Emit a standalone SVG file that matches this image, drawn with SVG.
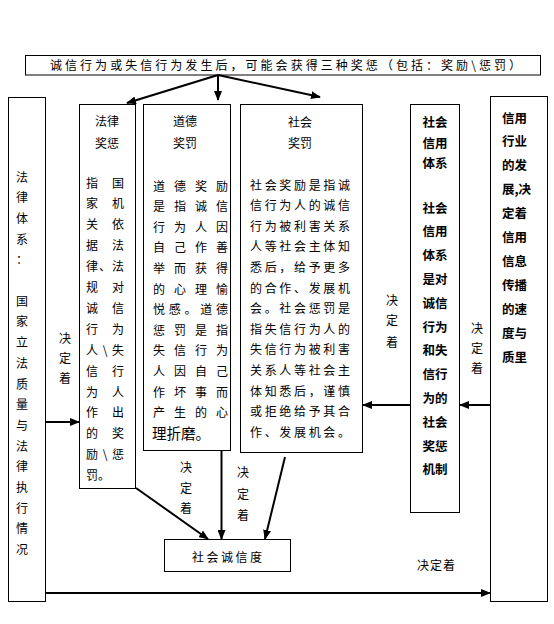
<svg xmlns="http://www.w3.org/2000/svg" width="554" height="624" viewBox="0 0 554 624">
<style>
.box{fill:#fff;stroke:#000;stroke-width:1}
.t{font-family:"Noto Sans CJK SC","Liberation Sans",sans-serif;font-size:12px;fill:#000}
.c{text-anchor:middle}
.b{font-weight:bold;font-size:12.5px}
.ln{stroke:#000;stroke-width:2;fill:none}
</style>
<defs>
<marker id="ah" viewBox="0 0 10 8" refX="9" refY="4" markerWidth="10" markerHeight="8" markerUnits="userSpaceOnUse" orient="auto"><path d="M0,0 L10,4 L0,8 z" fill="#000"/></marker>
</defs>
<rect width="554" height="624" fill="#fff"/>

<g id="top">
<rect class="box" x="25.5" y="55.5" width="515" height="19.5"/>
<text class="t" x="50" y="69.5" textLength="471" lengthAdjust="spacing">诚信行为或失信行为发生后，可能会获得三种奖惩（包括：奖励\惩罚）</text>
</g>

<g id="law-system">
<rect class="box" x="8.5" y="97.5" width="37" height="504"/>
<g class="t c">
<text x="22" y="181.5">法</text><text x="22" y="202.2">律</text><text x="22" y="222.9">体</text><text x="22" y="243.6">系</text><text x="22" y="264.3">：</text>
<text x="22" y="305.7">国</text><text x="22" y="326.4">家</text><text x="22" y="347.1">立</text><text x="22" y="367.8">法</text><text x="22" y="388.5">质</text><text x="22" y="409.2">量</text><text x="22" y="429.9">与</text><text x="22" y="450.6">法</text><text x="22" y="471.3">律</text><text x="22" y="492">执</text><text x="22" y="512.7">行</text><text x="22" y="533.4">情</text><text x="22" y="554.1">况</text>
</g>
</g>

<g id="law">
<rect class="box" x="79.5" y="104.5" width="56" height="384"/>
<text class="t c" x="107" y="125.5">法律</text>
<text class="t c" x="107" y="147.5">奖惩</text>
<g class="t">
<text x="86" y="187.5" textLength="38" lengthAdjust="spacing">指国</text>
<text x="86" y="208.4" textLength="38" lengthAdjust="spacing">家机</text>
<text x="86" y="229.3" textLength="38" lengthAdjust="spacing">关依</text>
<text x="86" y="250.2" textLength="38" lengthAdjust="spacing">据法</text>
<text x="86" y="271.1" textLength="38" lengthAdjust="spacing">律、法</text>
<text x="86" y="292" textLength="38" lengthAdjust="spacing">规对</text>
<text x="86" y="312.9" textLength="38" lengthAdjust="spacing">诚信</text>
<text x="86" y="333.8" textLength="38" lengthAdjust="spacing">行为</text>
<text x="86" y="354.7" textLength="38" lengthAdjust="spacing">人\失</text>
<text x="86" y="375.6" textLength="38" lengthAdjust="spacing">信行</text>
<text x="86" y="396.5" textLength="38" lengthAdjust="spacing">为人</text>
<text x="86" y="417.4" textLength="38" lengthAdjust="spacing">作出</text>
<text x="86" y="438.3" textLength="38" lengthAdjust="spacing">的奖</text>
<text x="86" y="459.2" textLength="38" lengthAdjust="spacing">励\惩</text>
<text x="86" y="480.1">罚。</text>
</g>
</g>

<g id="moral">
<rect class="box" x="143.5" y="104.5" width="87" height="346"/>
<text class="t c" x="185" y="125.5">道德</text>
<text class="t c" x="185" y="147.5">奖罚</text>
<g class="t">
<text x="153" y="190.5" textLength="75" lengthAdjust="spacing">道德奖励</text>
<text x="153" y="211.1" textLength="75" lengthAdjust="spacing">是指诚信</text>
<text x="153" y="231.7" textLength="75" lengthAdjust="spacing">行为人因</text>
<text x="153" y="252.3" textLength="75" lengthAdjust="spacing">自己作善</text>
<text x="153" y="272.9" textLength="75" lengthAdjust="spacing">举而获得</text>
<text x="153" y="293.5" textLength="75" lengthAdjust="spacing">的心理愉</text>
<text x="153" y="314.1" textLength="75" lengthAdjust="spacing">悦感。道德</text>
<text x="153" y="334.7" textLength="75" lengthAdjust="spacing">惩罚是指</text>
<text x="153" y="355.3" textLength="75" lengthAdjust="spacing">失信行为</text>
<text x="153" y="375.9" textLength="75" lengthAdjust="spacing">人因自己</text>
<text x="153" y="396.5" textLength="75" lengthAdjust="spacing">作坏事而</text>
<text x="153" y="417.1" textLength="75" lengthAdjust="spacing">产生的心</text>
<text x="152" y="438.5" style="font-size:14.5px">理折磨。</text>
</g>
</g>

<g id="social">
<rect class="box" x="240.5" y="104.5" width="122" height="348"/>
<text class="t c" x="300" y="126.5">社会</text>
<text class="t c" x="300" y="147.5">奖罚</text>
<g class="t">
<text x="250" y="189.5" textLength="100" lengthAdjust="spacing">社会奖励是指诚</text>
<text x="250" y="210.1" textLength="100" lengthAdjust="spacing">信行为人的诚信</text>
<text x="250" y="230.7" textLength="100" lengthAdjust="spacing">行为被利害关系</text>
<text x="250" y="251.3" textLength="100" lengthAdjust="spacing">人等社会主体知</text>
<text x="250" y="271.9" textLength="100" lengthAdjust="spacing">悉后，给予更多</text>
<text x="250" y="292.5" textLength="100" lengthAdjust="spacing">的合作、发展机</text>
<text x="250" y="313.1" textLength="100" lengthAdjust="spacing">会。社会惩罚是</text>
<text x="250" y="333.7" textLength="100" lengthAdjust="spacing">指失信行为人的</text>
<text x="250" y="354.3" textLength="100" lengthAdjust="spacing">失信行为被利害</text>
<text x="250" y="374.9" textLength="100" lengthAdjust="spacing">关系人等社会主</text>
<text x="250" y="395.5" textLength="100" lengthAdjust="spacing">体知悉后，谨慎</text>
<text x="250" y="416.1" textLength="100" lengthAdjust="spacing">或拒绝给予其合</text>
<text x="250" y="436.7" textLength="100" lengthAdjust="spacing">作、发展机会。</text>
</g>
</g>

<g id="credit-system">
<rect class="box" x="410.5" y="104.5" width="49" height="408"/>
<g class="t b c">
<text x="435" y="126.5">社会</text><text x="435" y="147.5">信用</text><text x="435" y="167.5">体系</text>
<text x="435" y="212.5">社会</text><text x="435" y="236.3">信用</text><text x="435" y="260.1">体系</text><text x="435" y="283.9">是对</text><text x="435" y="307.7">诚信</text><text x="435" y="331.5">行为</text><text x="435" y="355.3">和失</text><text x="435" y="379.1">信行</text><text x="435" y="402.9">为的</text><text x="435" y="426.7">社会</text><text x="435" y="450.5">奖惩</text><text x="435" y="474.3">机制</text>
</g>
</g>

<g id="credit-industry">
<rect class="box" x="490.5" y="96.5" width="57" height="505"/>
<g class="t b">
<text x="502" y="122.5">信用</text><text x="502" y="146.4">行业</text><text x="502" y="170.3">的发</text><text x="502" y="194.2">展,决</text><text x="502" y="218.1">定着</text><text x="502" y="242">信用</text><text x="502" y="265.9">信息</text><text x="502" y="289.8">传播</text><text x="502" y="313.7">的速</text><text x="502" y="337.6">度与</text><text x="502" y="361.5">质里</text>
</g>
</g>

<g id="credit-degree">
<rect class="box" x="164.5" y="539.5" width="126" height="32"/>
<text class="t" x="192" y="561.5" textLength="70" lengthAdjust="spacing">社会诚信度</text>
</g>

<g id="connectors">
<line class="ln" x1="218" y1="75" x2="127" y2="103" marker-end="url(#ah)"/>
<line class="ln" x1="218" y1="75" x2="218" y2="100" marker-end="url(#ah)"/>
<line class="ln" x1="218" y1="75" x2="320" y2="97" marker-end="url(#ah)"/>
<line class="ln" x1="45.5" y1="422" x2="79" y2="422" stroke-width="2.5" marker-end="url(#ah)"/>
<line class="ln" x1="490" y1="405" x2="460" y2="405" marker-end="url(#ah)"/>
<line class="ln" x1="410" y1="405" x2="363" y2="405" marker-end="url(#ah)"/>
<line class="ln" x1="136" y1="488" x2="208" y2="539" marker-end="url(#ah)"/>
<line class="ln" x1="221.5" y1="450.5" x2="221.5" y2="539" marker-end="url(#ah)"/>
<line class="ln" x1="285" y1="457" x2="265" y2="539" marker-end="url(#ah)"/>
<line class="ln" x1="45.5" y1="593" x2="490" y2="593" stroke-width="2.5" marker-end="url(#ah)"/>
<g class="t c">
<text x="65" y="342.5">决</text><text x="65" y="362.5">定</text><text x="65" y="382.5">着</text>
<text x="392" y="304.5">决</text><text x="392" y="324.5">定</text><text x="392" y="346.5">着</text>
<text x="477" y="332.5">决</text><text x="477" y="352.5">定</text><text x="477" y="372.5">着</text>
<text x="186" y="471.5">决</text><text x="186" y="492.5">定</text><text x="186" y="512.5">着</text>
<text x="243" y="476.5">决</text><text x="243" y="498.5">定</text><text x="243" y="519.5">着</text>
</g>
<text class="t" x="417" y="569.5" textLength="38" lengthAdjust="spacing">决定着</text>
</g>
</svg>
